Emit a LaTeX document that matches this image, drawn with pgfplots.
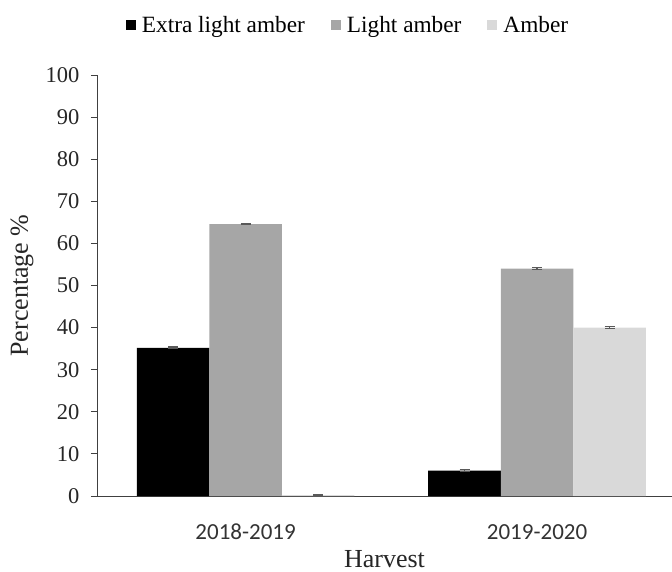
\documentclass[border=0pt]{standalone}
\usepackage{fontspec}
\setmainfont{Liberation Serif}
\newfontfamily\carlito{Carlito}
\usepackage{pgfplots}
\pgfplotsset{compat=1.18}

\definecolor{lightamber}{HTML}{A6A6A6}
\definecolor{amber}{HTML}{D9D9D9}
\definecolor{axisgray}{HTML}{404040}

\begin{document}
\begin{tikzpicture}
\useasboundingbox (0,0) rectangle (672pt,571pt);
\begin{axis}[
  at={(97pt,75pt)}, anchor=south west,
  scale only axis,
  width=575pt, height=421pt,
  xmin=-0.51, xmax=1.463,
  ymin=0, ymax=100,
  axis x line*=bottom,
  axis y line*=left,
  axis line style={axisgray, line width=0.9pt, -},
  xtick={0,1},
  xticklabels={2018-2019,2019-2020},
  x tick label style={font=\carlito\fontsize{23}{26}\selectfont, text=black!80, anchor=base, yshift=-37pt},
  x tick style={draw=none},
  ytick={0,10,...,100},
  y tick label style={font=\fontsize{22.5}{26}\selectfont, text=black!85, xshift=-8pt},
  /pgf/number format/assume math mode=true,
  y tick style={axisgray, line width=0.9pt},
  tick align=outside,
  major tick length=6pt,
  xlabel={Harvest},
  ylabel={Percentage \%},
  xlabel style={font=\fontsize{26}{30}\selectfont, text=black!85, at={(axis description cs:0.5,0)}, anchor=base, yshift=-71pt},
  ylabel style={font=\fontsize{26}{30}\selectfont, text=black!85, at={(axis description cs:0,0.5)}, anchor=center, yshift=75pt},
  ybar,
  bar width=0.249,
  legend columns=3,
  legend style={
    at={(0.4357,1.119)}, anchor=center,
    draw=none, fill=none,
    font=\fontsize{23.3}{27}\selectfont,
    nodes={inner sep=1pt},
    /tikz/every odd column/.append style={column sep=5pt},
    /tikz/every even column/.append style={column sep=25pt},
    inner sep=0pt,
  },
  legend image code/.code={\fill[#1] (0pt,-5pt) rectangle (10pt,5pt);},
  error bars/y dir=both,
  error bars/y explicit,
  error bars/error mark options={rotate=90, mark size=5pt, line width=1.2pt, draw=black!65},
  error bars/error bar style={line width=1.2pt, draw=black!65},
]
\addplot[fill=black, draw=none, bar shift=-0.249] coordinates {
  (0,35.2) +- (0,0.2)
  (1,6.0)  +- (0,0.2)
};
\addplot[fill=lightamber, draw=none, bar shift=0] coordinates {
  (0,64.6) +- (0,0.2)
  (1,54.0) +- (0,0.2)
};
\addplot[fill=amber, draw=none, bar shift=0.249] coordinates {
  (0,0.2)  +- (0,0.2)
  (1,40.0) +- (0,0.2)
};
\legend{Extra light amber, Light amber, Amber}
\end{axis}
\end{tikzpicture}
\end{document}
